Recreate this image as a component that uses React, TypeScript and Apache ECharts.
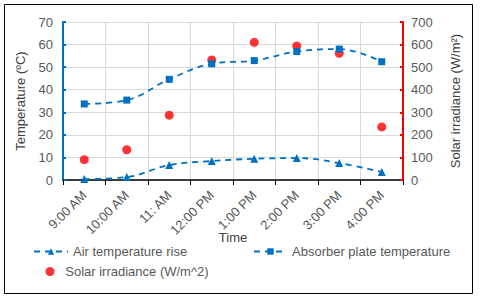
import React, { useEffect, useRef } from "react";
import * as echarts from "echarts";

const categories = ["9:00 AM", "10:00 AM", "11: AM", "12:00 PM", "1:00 PM", "2:00 PM", "3:00 PM", "4:00 PM"];
const airTempRise = [0.4, 1.3, 6.6, 8.4, 9.4, 9.7, 7.5, 3.5];
const absorberTemp = [33.7, 35.4, 44.6, 51.5, 52.9, 56.9, 58.0, 52.4];
const solarIrradiance = [90, 134, 287, 532, 610, 594, 561, 235];

const FONT = "Liberation Sans";
const BLUE = "#0070C0";
const AXBLUE = "#0070C0";
const RED = "#FF0000";
const GREY = "#595959";

export default function App() {
  const ref = useRef<HTMLDivElement>(null);
  useEffect(() => {
    if (!ref.current) return;
    const chart = echarts.init(ref.current, undefined, { renderer: "svg" });
    chart.setOption({
      animation: false,
      backgroundColor: "#fff",
      textStyle: { fontFamily: FONT },
      graphic: [
        {
          type: "rect",
          shape: { x: 4.5, y: 4.5, width: 468, height: 289 },
          style: { fill: "none", stroke: "#000", lineWidth: 1 },
          silent: true,
        },
      ],
      grid: { left: 63, right: 77, top: 22, bottom: 119, containLabel: false },
      xAxis: {
        type: "category",
        data: categories,
        name: "Time",
        nameLocation: "middle",
        nameGap: 51,
        nameMoveOverlap: false,
        nameTextStyle: { color: "#404040", fontSize: 13, fontFamily: FONT },
        axisLine: { lineStyle: { color: "#000", width: 1.5 } },
        axisTick: { show: true, length: 5, alignWithLabel: false, lineStyle: { color: "#000" } },
        axisLabel: { rotate: 45, color: GREY, fontSize: 13, fontFamily: FONT, margin: 13, interval: 0 },
        splitLine: { show: true, lineStyle: { color: "#d9d9d9" } },
      },
      yAxis: [
        {
          type: "value",
          min: 0,
          max: 70,
          interval: 10,
          name: "Temperature (ºC)",
          nameLocation: "middle",
          nameGap: 36,
          nameTextStyle: { color: "#404040", fontSize: 13, fontFamily: FONT },
          axisLine: { show: true, lineStyle: { color: AXBLUE, width: 2 } },
          axisTick: { show: true, inside: true, length: 3, lineStyle: { color: AXBLUE, width: 2 } },
          axisLabel: { color: GREY, fontSize: 13, fontFamily: FONT, margin: 10 },
          splitLine: { show: true, lineStyle: { color: "#d9d9d9" } },
        },
        {
          type: "value",
          min: 0,
          max: 700,
          interval: 100,
          name: "Solar irradiance (W/m²)",
          nameLocation: "middle",
          nameGap: 46,
          nameTextStyle: { color: "#404040", fontSize: 13, fontFamily: FONT },
          axisLine: { show: true, lineStyle: { color: RED, width: 2 } },
          axisTick: { show: true, inside: true, length: 3, lineStyle: { color: RED, width: 2 } },
          axisLabel: { color: GREY, fontSize: 13, fontFamily: FONT, margin: 8 },
          splitLine: { show: false },
        },
      ],
      legend: [
        {
          data: ["Air temperature rise"],
          left: 33,
          top: 245,
          padding: 0,
          itemWidth: 34,
          itemHeight: 8,
          textStyle: { color: GREY, fontSize: 13, fontFamily: FONT },
        },
        {
          data: ["Absorber plate temperature"],
          left: 253,
          top: 245,
          padding: 0,
          itemWidth: 33,
          itemHeight: 8,
          textStyle: { color: GREY, fontSize: 13, fontFamily: FONT },
        },
        {
          data: ["Solar irradiance (W/m^2)"],
          left: 45.5,
          top: 265,
          padding: 0,
          itemWidth: 20.5,
          itemHeight: 9,
          textStyle: { color: GREY, fontSize: 13, fontFamily: FONT },
        },
      ],
      series: [
        {
          name: "Air temperature rise",
          type: "line",
          yAxisIndex: 0,
          data: airTempRise,
          smooth: 0.4,
          symbol: "triangle",
          symbolSize: 8,
          lineStyle: { color: BLUE, width: 1.8, type: [6, 5] },
          itemStyle: { color: BLUE },
        },
        {
          name: "Absorber plate temperature",
          type: "line",
          yAxisIndex: 0,
          data: absorberTemp,
          smooth: 0.4,
          symbol: "rect",
          symbolSize: 7,
          lineStyle: { color: BLUE, width: 1.8, type: [6, 5] },
          itemStyle: { color: BLUE },
        },
        {
          name: "Solar irradiance (W/m^2)",
          type: "scatter",
          yAxisIndex: 1,
          data: solarIrradiance,
          symbol: "circle",
          symbolSize: 9,
          itemStyle: { color: RED },
        },
      ],
    });
    return () => chart.dispose();
  }, []);
  return (
    <div
      ref={ref}
      style={{ position: "fixed", left: 0, top: 0, width: 480, height: 299 }}
    />
  );
}
